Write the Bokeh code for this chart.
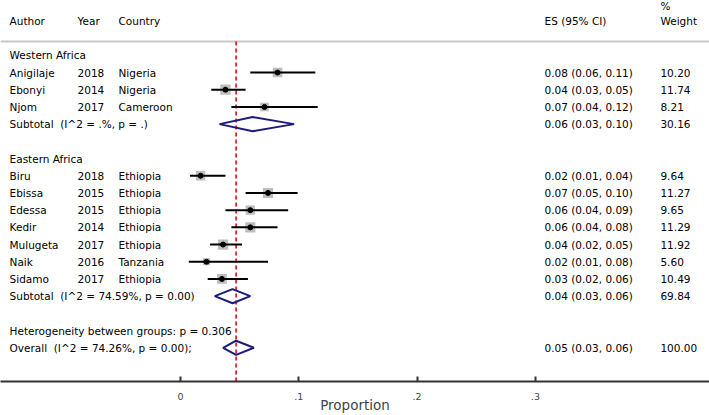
from bokeh.plotting import figure
from bokeh.models import Range1d, FixedTicker, ColumnDataSource
from bokeh.core.properties import value
from bokeh.embed import file_html
from bokeh.resources import INLINE
import math

# ---------------- data ----------------
subgroups = ["Western Africa", "Eastern Africa"]
authors = ["Anigilaje", "Ebonyi", "Njom", "Biru", "Ebissa", "Edessa", "Kedir", "Mulugeta", "Naik", "Sidamo"]
years = ["2018", "2014", "2017", "2018", "2015", "2015", "2014", "2017", "2016", "2017"]
countries = ["Nigeria", "Nigeria", "Cameroon", "Ethiopia", "Ethiopia", "Ethiopia", "Ethiopia", "Ethiopia", "Tanzania", "Ethiopia"]
regions = ["Western Africa"] * 3 + ["Eastern Africa"] * 7
es = [0.082, 0.038, 0.071, 0.017, 0.074, 0.059, 0.059, 0.036, 0.022, 0.035]
lo = [0.059, 0.026, 0.043, 0.008, 0.055, 0.038, 0.043, 0.025, 0.007, 0.023]
hi = [0.114, 0.055, 0.116, 0.038, 0.099, 0.091, 0.082, 0.052, 0.074, 0.057]
es_labels = ["0.08 (0.06, 0.11)", "0.04 (0.03, 0.05)", "0.07 (0.04, 0.12)",
             "0.02 (0.01, 0.04)", "0.07 (0.05, 0.10)", "0.06 (0.04, 0.09)",
             "0.06 (0.04, 0.08)", "0.04 (0.02, 0.05)", "0.02 (0.01, 0.08)",
             "0.03 (0.02, 0.06)"]
weights = [10.20, 11.74, 8.21, 9.64, 11.27, 9.65, 11.29, 11.92, 5.60, 10.49]

sub_es = [0.061, 0.044]
sub_lo = [0.033, 0.029]
sub_hi = [0.096, 0.059]
sub_labels = ["0.06 (0.03, 0.10)", "0.04 (0.03, 0.06)"]
sub_weights = ["30.16", "69.84"]
sub_stats = ["Subtotal\u00a0 (I^2 = .%, p = .)", "Subtotal\u00a0 (I^2 = 74.59%, p = 0.00)"]

overall_es = 0.047
overall_lo = 0.036
overall_hi = 0.062
overall_label = "0.05 (0.03, 0.06)"
overall_weight = "100.00"
overall_stats = "Overall\u00a0 (I^2 = 74.26%, p = 0.00);"
heterogeneity = "Heterogeneity between groups: p = 0.306"

x_ticks = [0, 0.1, 0.2, 0.3]
x_tick_labels = ["0", ".1", ".2", ".3"]
x_title = "Proportion"

# ---------------- layout ----------------
X0, X1 = -0.15216, 0.44717
COL_AUTHOR, COL_YEAR, COL_COUNTRY = -0.1445, -0.0870, -0.0524
COL_ES, COL_W = 0.3077, 0.4057
Y_TOP, Y_BOT = -2.186, 19.96
FONT = value("DejaVu Sans")
FS = "10.5px"

# assign rows
study_rows, sub_rows, head_rows = [], [], []
r = 1
for g in subgroups:
    head_rows.append(r)
    r += 1
    for reg in regions:
        if reg == g:
            study_rows.append(r)
            r += 1
    sub_rows.append(r)
    r += 2
het_row = r
overall_row = r + 1

p = figure(width=709, height=415, output_backend="svg", toolbar_location=None,
           x_range=Range1d(X0, X1), y_range=Range1d(Y_BOT, Y_TOP),
           min_border=0, min_border_left=0, min_border_right=0, min_border_top=0)
p.outline_line_color = None
p.grid.visible = False
p.yaxis.visible = False
p.background_fill_color = "white"

ax = p.xaxis[0]
ax.ticker = FixedTicker(ticks=x_ticks)
ax.major_label_overrides = {t: l for t, l in zip(x_ticks, x_tick_labels)}
ax.major_tick_in = 5
ax.major_tick_out = 0
ax.minor_tick_line_color = None
ax.major_tick_line_color = "#333333"
ax.major_tick_line_width = 2
ax.axis_line_color = "#333333"
ax.axis_line_width = 2
ax.major_label_text_font = "DejaVu Sans"
ax.major_label_text_font_size = "9.5px"
ax.major_label_standoff = 11
ax.axis_label = x_title
ax.axis_label_text_font = "DejaVu Sans"
ax.axis_label_text_font_size = "13.5px"
ax.axis_label_text_font_style = "normal"
ax.axis_label_standoff = -6

# header line
p.segment(x0=[X0], y0=[0.2], x1=[X1], y1=[0.2], line_color="#c8c8c8", line_width=2)

# reference (overall) line
p.segment(x0=[overall_es], y0=[0.2], x1=[overall_es], y1=[Y_BOT],
          line_color="#e8202a", line_width=1.8, line_dash="4 3")

# studies
src = ColumnDataSource(dict(
    y=study_rows, es=es, lo=lo, hi=hi, author=authors, year=years, country=countries,
    lab=es_labels, w=["%.2f" % w for w in weights],
    sz=[3.0 * math.sqrt(w) for w in weights]))
p.scatter(x="es", y="y", size="sz", marker="square", fill_color="#bdbdbd",
          line_color=None, source=src)
p.segment(x0="lo", y0="y", x1="hi", y1="y", line_color="black", line_width=2, source=src)
p.scatter(x="es", y="y", size=5, marker="circle", fill_color="black", line_color="black", source=src)

tk = dict(text_font=FONT, text_font_size=FS, text_baseline="middle", text_color="#000000")
p.text(x=COL_AUTHOR, y="y", text="author", source=src, **tk)
p.text(x=COL_YEAR, y="y", text="year", source=src, **tk)
p.text(x=COL_COUNTRY, y="y", text="country", source=src, **tk)
p.text(x=COL_ES, y="y", text="lab", source=src, **tk)
p.text(x=COL_W, y="y", text="w", source=src, **tk)

# headers
p.text(x=[COL_AUTHOR, COL_YEAR, COL_COUNTRY, COL_ES, COL_W], y=[-1] * 5,
       text=["Author", "Year", "Country", "ES (95% CI)", "Weight"], **tk)
p.text(x=[COL_W], y=[-1.85], text=["%"], **tk)
p.text(x=[COL_AUTHOR] * 2, y=head_rows, text=subgroups, **tk)

# subtotals + overall diamonds
H = 0.41
d_lo = sub_lo + [overall_lo]
d_es = sub_es + [overall_es]
d_hi = sub_hi + [overall_hi]
d_rows = sub_rows + [overall_row]
xs = [[a, b, c, b] for a, b, c in zip(d_lo, d_es, d_hi)]
ys = [[rr, rr - H, rr, rr + H] for rr in d_rows]
p.patches(xs=xs, ys=ys, fill_alpha=0, line_color="#1c1c78", line_width=2)

p.text(x=[COL_AUTHOR] * 2, y=sub_rows, text=sub_stats, **tk)
p.text(x=[COL_ES] * 2, y=sub_rows, text=sub_labels, **tk)
p.text(x=[COL_W] * 2, y=sub_rows, text=sub_weights, **tk)
p.text(x=[COL_AUTHOR], y=[het_row], text=[heterogeneity], **tk)
p.text(x=[COL_AUTHOR], y=[overall_row], text=[overall_stats], **tk)
p.text(x=[COL_ES], y=[overall_row], text=[overall_label], **tk)
p.text(x=[COL_W], y=[overall_row], text=[overall_weight], **tk)

open("out.html", "w").write(file_html(p, INLINE))
